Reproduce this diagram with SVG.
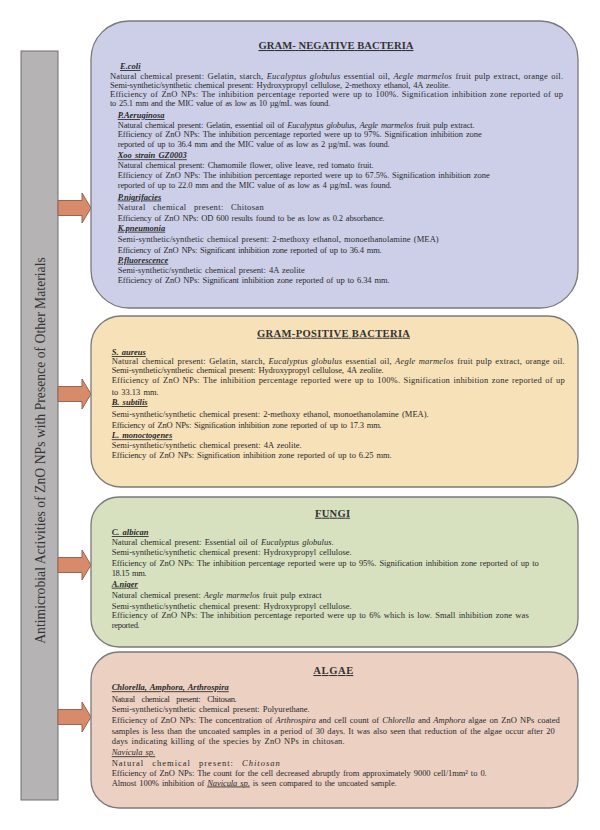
<svg xmlns="http://www.w3.org/2000/svg" width="600" height="830" viewBox="0 0 600 830">
<style>
.t{font-family:"Liberation Serif","Times New Roman",serif;font-size:8.5px;fill:#2a2a2a;word-spacing:1px}
.h{font-weight:bold;font-size:10.6px;text-decoration:underline;text-anchor:middle;fill:#333;word-spacing:0}
.s{font-weight:bold;font-style:italic;text-decoration:underline}
.i{font-style:italic}
.w{word-spacing:5px}
.box{stroke:#7a7a7a;stroke-width:1.3}
.arr{fill:#d78b6b;stroke:#9a6450;stroke-width:1}
</style>
<rect width="600" height="830" fill="#ffffff"/>

<g id="title-bar">
<rect x="21" y="51" width="37" height="749" fill="#b5b3b3" stroke="#6e6e6e" stroke-width="1"/>
<text class="t" transform="translate(45,450.5) rotate(-90)" text-anchor="middle" style="font-size:13.7px;fill:#333;word-spacing:0">Antimicrobial Activities of ZnO NPs with Presence of Other Materials</text>
</g>

<g id="connectors">
<polygon class="arr" points="58,200.5 82,200.5 82,193 91,208 82,223 82,215.5 58,215.5"/>
<polygon class="arr" points="58,386.5 82,386.5 82,379 91,394 82,409 82,401.5 58,401.5"/>
<polygon class="arr" points="58,557.5 82,557.5 82,550 91,565 82,580 82,572.5 58,572.5"/>
<polygon class="arr" points="58,709.5 82,709.5 82,702 91,717 82,732 82,724.5 58,724.5"/>
</g>

<g id="gram-negative">
<rect class="box" x="91" y="21" width="487" height="287" rx="38" fill="#cdcfe9"/>
<text class="t h" x="336" y="49" textLength="155">GRAM- NEGATIVE BACTERIA</text>
<text class="t s" x="120" y="69">E.coli</text>
<text class="t" x="110" y="78.5" textLength="453">Natural chemical present: Gelatin, starch, <tspan class="i">Eucalyptus globulus</tspan> essential oil, <tspan class="i">Aegle marmelos</tspan> fruit pulp extract, orange oil.</text>
<text class="t" x="110" y="87.5" textLength="340">Semi-synthetic/synthetic chemical present: Hydroxypropyl cellulose, 2-methoxy ethanol, 4A zeolite.</text>
<text class="t" x="110" y="97" textLength="453">Efficiency of ZnO NPs: The inhibition percentage reported were up to 100%. Signification inhibition zone reported of up</text>
<text class="t" x="110" y="106" textLength="220">to 25.1 mm and the MIC value of as low as 10 µg/mL was found.</text>
<text class="t s" x="117.7" y="118">P.Aeruginosa</text>
<text class="t" x="117.7" y="127.5" textLength="357">Natural chemical present: Gelatin, essential oil of <tspan class="i">Eucalyptus globulus</tspan>, <tspan class="i">Aegle marmelos</tspan> fruit pulp extract.</text>
<text class="t" x="117.7" y="137.3" textLength="364">Efficiency of ZnO NPs: The inhibition percentage reported were up to 97%. Signification inhibition zone</text>
<text class="t" x="117.7" y="146.7" textLength="272">reported of up to 36.4 mm and the MIC value of as low as 2 µg/mL was found.</text>
<text class="t s" x="117.7" y="158.3">Xoo strain GZ0003</text>
<text class="t" x="117.7" y="168.3" textLength="256">Natural chemical present: Chamomile flower, olive leave, red tomato fruit.</text>
<text class="t" x="117.7" y="178.3" textLength="372">Efficiency of ZnO NPs: The inhibition percentage reported were up to 67.5%. Signification inhibition zone</text>
<text class="t" x="117.7" y="188" textLength="274">reported of up to 22.0 mm and the MIC value of as low as 4 µg/mL was found.</text>
<text class="t s" x="117.7" y="199.5">P.nigrifacies</text>
<text class="t w" x="117.7" y="209.5" textLength="146">Natural chemical present: Chitosan</text>
<text class="t" x="117.7" y="220.5" textLength="267">Efficiency of ZnO NPs: OD 600 results found to be as low as 0.2 absorbance.</text>
<text class="t s" x="117.7" y="230.7">K.pneumonia</text>
<text class="t" x="117.7" y="241.5" textLength="321">Semi-synthetic/synthetic chemical present: 2-methoxy ethanol, monoethanolamine (MEA)</text>
<text class="t" x="117.7" y="252.5" textLength="264">Efficiency of ZnO NPs: Significant inhibition zone reported of up to 36.4 mm.</text>
<text class="t s" x="117.7" y="262.7">P.fluorescence</text>
<text class="t" x="117.7" y="272.7" textLength="187">Semi-synthetic/synthetic chemical present: 4A zeolite</text>
<text class="t" x="117.7" y="283.3" textLength="272">Efficiency of ZnO NPs: Significant inhibition zone reported of up to 6.34 mm.</text>
</g>

<g id="gram-positive">
<rect class="box" x="91" y="316" width="487" height="171" rx="30" fill="#f7e1b9"/>
<text class="t h" x="333.5" y="336.7" textLength="153">GRAM-POSITIVE BACTERIA</text>
<text class="t s" x="111.7" y="355">S. aureus</text>
<text class="t" x="111.7" y="364.3" textLength="453">Natural chemical present: Gelatin, starch, <tspan class="i">Eucalyptus globulus</tspan> essential oil, <tspan class="i">Aegle marmelos</tspan> fruit pulp extract, orange oil.</text>
<text class="t" x="111.7" y="373.3" textLength="272">Semi-synthetic/synthetic chemical present: Hydroxypropyl cellulose, 4A zeolite.</text>
<text class="t" x="111.7" y="382.7" textLength="453">Efficiency of ZnO NPs: The inhibition percentage reported were up to 100%. Signification inhibition zone reported of up</text>
<text class="t" x="111.7" y="395" textLength="47">to 33.13 mm.</text>
<text class="t s" x="111.7" y="405">B. subtilis</text>
<text class="t" x="111.7" y="416.7" textLength="317">Semi-synthetic/synthetic chemical present: 2-methoxy ethanol, monoethanolamine (MEA).</text>
<text class="t" x="111.7" y="427.7" textLength="270">Efficiency of ZnO NPs: Signification inhibition zone reported of up to 17.3 mm.</text>
<text class="t s" x="111.7" y="438.3">L. monoctogenes</text>
<text class="t" x="111.7" y="448.3" textLength="190">Semi-synthetic/synthetic chemical present: 4A zeolite.</text>
<text class="t" x="111.7" y="457.7" textLength="280">Efficiency of ZnO NPs: Signification inhibition zone reported of up to 6.25 mm.</text>
</g>

<g id="fungi">
<rect class="box" x="91" y="497" width="487" height="150" rx="28" fill="#d7e1c0"/>
<text class="t h" x="332.5" y="516.7" textLength="35">FUNGI</text>
<text class="t s" x="111.7" y="535">C. albican</text>
<text class="t" x="111.7" y="544.5" textLength="222">Natural chemical present: Essential oil of <tspan class="i">Eucalyptus globulus</tspan>.</text>
<text class="t" x="111.7" y="555" textLength="240">Semi-synthetic/synthetic chemical present: Hydroxypropyl cellulose.</text>
<text class="t" x="111.7" y="565.7" textLength="427">Efficiency of ZnO NPs: The inhibition percentage reported were up to 95%. Signification inhibition zone reported of up to</text>
<text class="t" x="111.7" y="575.7" textLength="35">18.15 mm.</text>
<text class="t s" x="111.7" y="586.7">A.niger</text>
<text class="t" x="111.7" y="597.8" textLength="210">Natural chemical present: <tspan class="i">Aegle marmelos</tspan> fruit pulp extract</text>
<text class="t" x="111.7" y="608.5" textLength="240">Semi-synthetic/synthetic chemical present: Hydroxypropyl cellulose.</text>
<text class="t" x="111.7" y="618.3" textLength="417">Efficiency of ZnO NPs: The inhibition percentage reported were up to 6% which is low. Small inhibition zone was</text>
<text class="t" x="111.7" y="628.3" textLength="28">reported.</text>
</g>

<g id="algae">
<rect class="box" x="91" y="652" width="487" height="156" rx="28" fill="#ecd0c2"/>
<text class="t h" x="333.3" y="674" textLength="40">ALGAE</text>
<text class="t s" x="111.7" y="690.3">Chlorella, Amphora, Arthrospira</text>
<text class="t w" x="111.7" y="701.5" textLength="125">Natural chemical present: Chitosan.</text>
<text class="t" x="111.7" y="712" textLength="198">Semi-synthetic/synthetic chemical present: Polyurethane.</text>
<text class="t" x="111.7" y="722.8" textLength="448">Efficiency of ZnO NPs: The concentration of <tspan class="i">Arthrospira</tspan> and cell count of <tspan class="i">Chlorella</tspan> and <tspan class="i">Amphora</tspan> algae on ZnO NPs coated</text>
<text class="t" x="111.7" y="733.7" textLength="443">samples is less than the uncoated samples in a period of 30 days. It was also seen that reduction of the algae occur after 20</text>
<text class="t" x="111.7" y="744.3" textLength="233">days indicating killing of the species by ZnO NPs in chitosan.</text>
<text class="t s" x="111.7" y="755.3" style="font-weight:normal">Navicula sp.</text>
<text class="t w" x="111.7" y="766" textLength="168">Natural chemical present: <tspan class="i">Chitosan</tspan></text>
<text class="t" x="111.7" y="775.8" textLength="375">Efficiency of ZnO NPs: The count for the cell decreased abruptly from approximately 9000 cell/1mm² to 0.</text>
<text class="t" x="111.7" y="785.5" textLength="285">Almost 100% inhibition of <tspan class="i" text-decoration="underline">Navicula sp.</tspan> is seen compared to the uncoated sample.</text>
</g>
</svg>
